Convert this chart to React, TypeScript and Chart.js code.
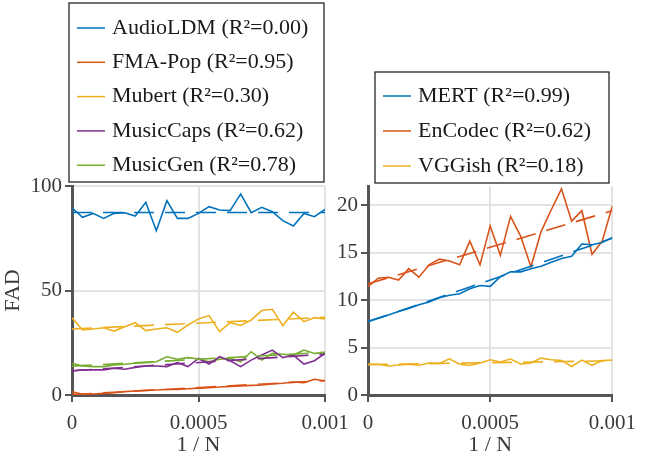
import { useEffect, useRef } from "react";
import { Chart, registerables } from "chart.js";
Chart.register(...registerables);

const FONT = "'Liberation Serif', 'Times New Roman', serif";

// 1/N sample positions
const xs = [0, 0.0000417, 0.0000833, 0.000125, 0.0001667, 0.0002083, 0.00025, 0.0002917,
  0.0003333, 0.000375, 0.0004167, 0.0004583, 0.0005, 0.0005417, 0.0005833, 0.000625,
  0.0006667, 0.0007083, 0.00075, 0.0007917, 0.0008333, 0.000875, 0.0009167, 0.0009583, 0.001];
const trendX = [0, 0.001];

const xTickValues = [0, 0.0005, 0.001];
const xTickLabels = ["0", "0.0005", "0.001"];
const leftYTicks = [0, 50, 100];
const rightYTicks = [0, 5, 10, 15, 20];

// left panel: music datasets
const leftNames = ["AudioLDM", "FMA-Pop", "Mubert", "MusicCaps", "MusicGen"];
const leftR2 = [0.0, 0.95, 0.3, 0.62, 0.78];
const leftColors = ["#0072BD", "#D95319", "#EDB120", "#7E2F8E", "#77AC30"];
const audioLDM = [89.6, 85.0, 86.9, 84.5, 86.9, 87.2, 85.6, 92.2, 78.6, 93.0, 84.5, 84.5, 86.9,
  90.1, 88.5, 88.2, 96.2, 87.2, 89.8, 87.7, 83.4, 80.9, 86.9, 85.3, 88.8];
const fmaPop = [1.6, 0.3, 0.5, 0.8, 1.1, 1.6, 1.9, 2.2, 2.4, 2.6, 2.7, 3.0, 3.3, 3.5, 3.8, 4.1,
  4.3, 4.6, 4.8, 5.3, 5.6, 6.2, 5.9, 7.5, 6.7];
const mubert = [37.0, 31.1, 31.6, 32.2, 30.6, 32.7, 34.6, 30.8, 31.6, 32.2, 30.0, 33.5, 36.4,
  38.0, 30.3, 34.6, 33.3, 35.9, 40.4, 41.0, 33.2, 39.6, 35.1, 37.0, 36.4];
const musicCaps = [11.5, 12.0, 12.0, 12.0, 12.8, 12.3, 13.2, 13.9, 13.9, 13.6, 15.5, 13.6, 17.5,
  14.8, 18.3, 16.4, 13.6, 16.7, 19.1, 21.5, 17.9, 19.1, 14.8, 16.4, 19.9];
const musicGen = [15.2, 13.9, 13.6, 13.6, 14.4, 14.7, 15.2, 15.5, 15.9, 18.3, 17.1, 17.9, 17.2,
  15.9, 17.1, 17.5, 15.9, 20.7, 16.7, 19.9, 19.5, 19.1, 21.5, 19.9, 20.3];
const leftSeries = [audioLDM, fmaPop, mubert, musicCaps, musicGen];
const leftTrends = [[87.3, 87.3], [0.2, 6.9], [31.6, 37.2], [11.6, 19.5], [13.8, 20.4]];

// right panel: embedding models
const rightNames = ["MERT", "EnCodec", "VGGish"];
const rightR2 = [0.99, 0.62, 0.18];
const rightColors = ["#0072BD", "#D95319", "#EDB120"];
const mert = [7.76, 8.1, 8.43, 8.8, 9.1, 9.49, 9.8, 10.24, 10.5, 10.65, 11.19, 11.53, 11.43,
  12.45, 12.96, 12.96, 13.3, 13.55, 13.97, 14.36, 14.6, 15.89, 15.82, 16.06, 16.59];
const encodec = [11.4, 12.3, 12.4, 12.1, 13.3, 12.4, 13.7, 14.3, 14.1, 13.7, 16.2, 13.7, 17.8,
  14.7, 18.8, 16.7, 13.5, 17.2, 19.5, 21.7, 18.3, 19.4, 14.8, 16.2, 19.9];
const vggish = [3.23, 3.23, 3.05, 3.16, 3.23, 3.13, 3.37, 3.33, 3.81, 3.23, 3.1, 3.37, 3.71,
  3.47, 3.78, 3.27, 3.37, 3.88, 3.71, 3.64, 3.0, 3.67, 3.13, 3.64, 3.67];
const rightSeries = [mert, encodec, vggish];
const rightTrends = [[7.7, 16.5], [11.7, 19.4], [3.2, 3.6]];

const makeLabels = (names, r2) => names.map((n, i) => `${n} (R\u00B2=${r2[i].toFixed(2)})`);

// boxed legend drawn on the canvas, one item per row
function boxLegend(box, labels, colors) {
  return {
    id: "boxLegend",
    afterDraw(chart) {
      const ctx = chart.ctx;
      ctx.save();
      ctx.fillStyle = "#fff";
      ctx.fillRect(box.left, box.top, box.right - box.left, box.bottom - box.top);
      ctx.strokeStyle = "#262626";
      ctx.lineWidth = 1.3;
      ctx.strokeRect(box.left, box.top, box.right - box.left, box.bottom - box.top);
      ctx.font = `22px ${FONT}`;
      ctx.textBaseline = "middle";
      ctx.textAlign = "left";
      labels.forEach((t, i) => {
        const y = box.top + box.rowTop + i * box.rowGap;
        ctx.strokeStyle = colors[i];
        ctx.lineWidth = 1.5;
        ctx.beginPath();
        ctx.moveTo(box.left + 8, y);
        ctx.lineTo(box.left + 36, y);
        ctx.stroke();
        ctx.fillStyle = "#1a1a1a";
        ctx.fillText(t, box.left + 43, y);
      });
      ctx.restore();
    },
  };
}

function buildDatasets(series, trends, colors) {
  const lines = series.map((s, i) => ({
    data: s.map((y, j) => ({ x: xs[j], y })),
    borderColor: colors[i],
    borderWidth: 1.6,
    pointRadius: 0,
    fill: false,
  }));
  const fits = trends.map((t, i) => ({
    data: t.map((y, j) => ({ x: trendX[j], y })),
    borderColor: colors[i],
    borderWidth: 1.6,
    borderDash: [20, 11],
    pointRadius: 0,
    fill: false,
  }));
  return [...fits, ...lines];
}

const gridColor = (c) => (c.tick && c.tick.value === 0 ? "rgba(0,0,0,0)" : "#e3e3e3");

function axes(yTicks, yMax, yWidth, yTitle) {
  const common = {
    grid: { color: gridColor, lineWidth: 2, tickColor: "#555", tickLength: 7, tickWidth: 2 },
    border: { color: "#555", width: 3 },
  };
  return {
    x: {
      type: "linear",
      min: 0,
      max: 0.001,
      ...common,
      afterBuildTicks: (s) => { s.ticks = xTickValues.map((v) => ({ value: v })); },
      afterFit: (s) => { s.height = 61; },
      ticks: {
        padding: 9,
        color: "#3a3a3a",
        font: { family: FONT, size: 21 },
        maxRotation: 0,
        callback: (v, i) => xTickLabels[i],
      },
      title: {
        display: true,
        text: "1 / N",
        color: "#3a3a3a",
        font: { family: FONT, size: 22 },
        padding: { top: 0, bottom: -2 },
      },
    },
    y: {
      min: 0,
      max: yMax,
      ...common,
      afterBuildTicks: (s) => { s.ticks = yTicks.map((v) => ({ value: v })); },
      afterFit: (s) => { s.width = yWidth; },
      ticks: {
        padding: 3,
        color: "#3a3a3a",
        font: { family: FONT, size: 21 },
        callback: (v) => String(v),
      },
      title: {
        display: !!yTitle,
        text: yTitle || "",
        color: "#3a3a3a",
        font: { family: FONT, size: 22 },
        padding: 0,
      },
    },
  };
}

function Panel({ series, trends, colors, names, r2, yTicks, yMax, yWidth, yTitle, padding, box }) {
  const ref = useRef(null);
  useEffect(() => {
    const chart = new Chart(ref.current, {
      type: "line",
      data: { datasets: buildDatasets(series, trends, colors) },
      options: {
        animation: false,
        responsive: false,
        layout: { padding },
        plugins: { legend: { display: false }, tooltip: { enabled: false } },
        scales: axes(yTicks, yMax, yWidth, yTitle),
      },
      plugins: [boxLegend(box, makeLabels(names, r2), colors)],
    });
    return () => chart.destroy();
  }, []);
  return (
    <canvas ref={ref} width={645} height={456} style={{ position: "absolute", left: 0, top: 0 }} />
  );
}

export default function App() {
  return (
    <div style={{ position: "absolute", left: 0, top: 0, width: 645, height: 456, background: "#fff" }}>
      <Panel
        series={leftSeries}
        trends={leftTrends}
        colors={leftColors}
        names={leftNames}
        r2={leftR2}
        yTicks={leftYTicks}
        yMax={100}
        yWidth={72}
        yTitle="FAD"
        padding={{ left: 0, top: 186, right: 320, bottom: 0 }}
        box={{ left: 69, top: 3, right: 324, bottom: 182, rowTop: 25, rowGap: 34.3 }}
      />
      <Panel
        series={rightSeries}
        trends={rightTrends}
        colors={rightColors}
        names={rightNames}
        r2={rightR2}
        yTicks={rightYTicks}
        yMax={22}
        yWidth={40}
        yTitle={null}
        padding={{ left: 328, top: 186, right: 25, bottom: 0 }}
        box={{ left: 375, top: 72, right: 609, bottom: 183, rowTop: 24, rowGap: 35 }}
      />
    </div>
  );
}
